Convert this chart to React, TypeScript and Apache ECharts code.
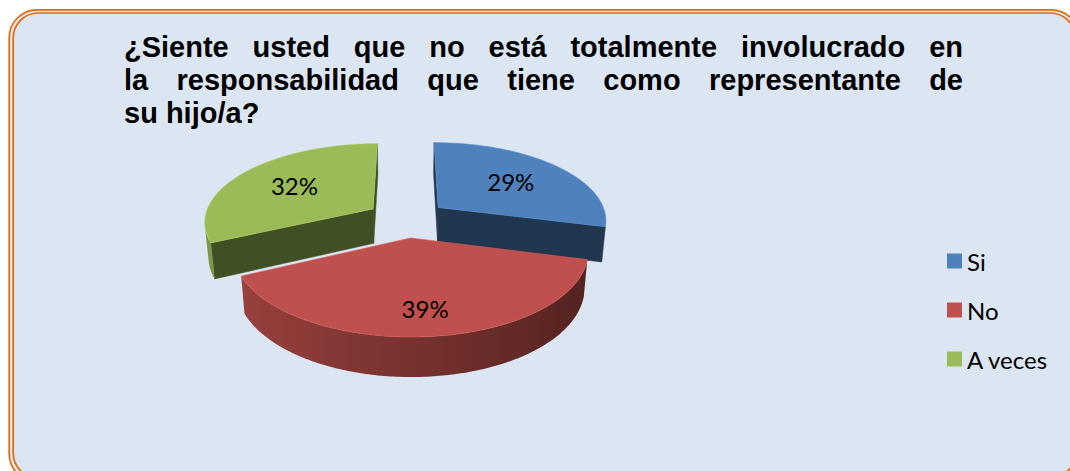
import { useEffect, useRef } from "react";
import * as echarts from "echarts";

// ---------- data ----------
const categories = ["Si", "No", "A veces"];
const values = [29, 39, 32];
const sliceColors = ["#4F81BD", "#C0504D", "#9BBB59"];
const titleLines = [
  "¿Siente usted que no está totalmente involucrado en",
  "la responsabilidad que tiene como representante de",
  "su hijo/a?",
];

// ---------- view / style ----------
const VIEW = {
  cx: 406.7,
  cy: 218.7,
  focal: 1000,
  dist: 5.92,
  tilt: (27.4 * Math.PI) / 180,
  height: 0.237,
  explode: 0.24,
};
const TITLE_FONT = { family: '"Liberation Sans", Arial, sans-serif', size: 29 };
const TITLE_LEFT = 124;
const TITLE_RIGHT = 963;
const TITLE_BASELINES = [57, 90, 123];
const LABEL_FONT = 24;

function project(X: number, Y: number, Z: number): [number, number] {
  const yr = Y - VIEW.height;
  const v = yr * Math.cos(VIEW.tilt) + Z * Math.sin(VIEW.tilt);
  const w = VIEW.dist + Z * Math.cos(VIEW.tilt) - yr * Math.sin(VIEW.tilt);
  return [VIEW.cx + (VIEW.focal * X) / w, VIEW.cy - (VIEW.focal * v) / w];
}

function shade(hex: string, f: number) {
  const n = parseInt(hex.slice(1), 16);
  const r = Math.min(255, Math.round(((n >> 16) & 255) * f));
  const g = Math.min(255, Math.round(((n >> 8) & 255) * f));
  const b = Math.min(255, Math.round((n & 255) * f));
  return `rgb(${r},${g},${b})`;
}

function makeRenderItem(idx: number) {
  return (_params: any, api: any) => {
    const total = values.reduce((s, v) => s + v, 0);
    let before = 0;
    for (let j = 0; j < idx; j++) before += values[j];
    const val = api.value(0) as number;
    const TAU = Math.PI * 2;
    const a0 = (before / total) * TAU;
    const a1 = ((before + val) / total) * TAU;
    const mid = (a0 + a1) / 2;
    const ccx = VIEW.explode * Math.sin(mid);
    const ccz = VIEW.explode * Math.cos(mid);
    const H = VIEW.height;
    const camZ = -VIEW.dist * Math.cos(VIEW.tilt);
    const base = sliceColors[idx];
    const pt = (t: number, r: number, Y: number) =>
      project(ccx + r * Math.sin(t), Y, ccz + r * Math.cos(t));

    const zBase = 100 + Math.round(-Math.cos(mid) * 50);
    const children: any[] = [];

    // radial walls
    const sideColor = shade(base, 0.42);
    const startVis = Math.cos(a0) * ccx + Math.sin(a0) * (camZ - ccz) > 0;
    const endVis = -Math.cos(a1) * ccx - Math.sin(a1) * (camZ - ccz) > 0;
    if (startVis) {
      children.push({
        type: "polygon",
        z2: zBase,
        shape: { points: [pt(a0, 0, H), pt(a0, 1, H), pt(a0, 1, 0), pt(a0, 0, 0)] },
        style: { fill: sideColor, stroke: sideColor, lineWidth: 0.5 },
      });
    }
    if (endVis) {
      children.push({
        type: "polygon",
        z2: zBase,
        shape: { points: [pt(a1, 0, H), pt(a1, 1, H), pt(a1, 1, 0), pt(a1, 0, 0)] },
        style: { fill: sideColor, stroke: sideColor, lineWidth: 0.5 },
      });
    }

    // outer curved wall (visible part)
    const N = 160;
    const vis: number[] = [];
    for (let k = 0; k <= N; k++) {
      const t = a0 + ((a1 - a0) * k) / N;
      const d = -ccx * Math.sin(t) + (camZ - ccz) * Math.cos(t) - 1;
      if (d > 0) vis.push(t);
    }
    if (vis.length > 1) {
      const topPts = vis.map((t) => pt(t, 1, H));
      const botPts = vis.map((t) => pt(t, 1, 0)).reverse();
      const all = topPts.concat(botPts);
      const xs = all.map((p) => p[0]);
      const xmin = Math.min(...xs);
      const xmax = Math.max(...xs);
      const stops: { offset: number; color: string }[] = [];
      const step = Math.max(1, Math.floor(vis.length / 12));
      for (let k = 0; k < vis.length; k += step) {
        const t = vis[k];
        const x = topPts[k][0];
        const off = xmax > xmin ? (x - xmin) / (xmax - xmin) : 0;
        stops.push({ offset: Math.min(1, Math.max(0, off)), color: shade(base, 0.62 - 0.2 * Math.sin(t)) });
      }
      const tl = vis[vis.length - 1];
      const xl = topPts[vis.length - 1][0];
      stops.push({
        offset: xmax > xmin ? Math.min(1, Math.max(0, (xl - xmin) / (xmax - xmin))) : 1,
        color: shade(base, 0.62 - 0.2 * Math.sin(tl)),
      });
      stops.sort((p, q) => p.offset - q.offset);
      children.push({
        type: "polygon",
        z2: zBase + 1,
        shape: { points: all },
        style: {
          fill: new echarts.graphic.LinearGradient(0, 0, 1, 0, stops),
        },
      });
    }

    // top face
    const topFace: [number, number][] = [pt(0, 0, H)];
    for (let k = 0; k <= N; k++) {
      const t = a0 + ((a1 - a0) * k) / N;
      topFace.push(pt(t, 1, H));
    }
    children.push({
      type: "polygon",
      z2: zBase + 2,
      shape: { points: topFace },
      style: { fill: base, stroke: shade(base, 1.12), lineWidth: 0.6 },
    });

    // label
    const rho = 0.6 + 0.15 * Math.max(0, -Math.cos(mid));
    const lp = pt(mid, rho, H);
    children.push({
      type: "text",
      z2: 1000,
      x: lp[0],
      y: lp[1],
      style: {
        text: Math.round((val / total) * 100) + "%",
        fill: "#000",
        fontFamily: "Lato, 'Open Sans', sans-serif",
        fontSize: LABEL_FONT,
        align: "center",
        verticalAlign: "middle",
      },
    });

    return { type: "group", children };
  };
}

function titleElements() {
  const canvas = document.createElement("canvas");
  const ctx = canvas.getContext("2d")!;
  ctx.font = `bold ${TITLE_FONT.size}px ${TITLE_FONT.family}`;
  const els: any[] = [];
  const spaceW = ctx.measureText(" ").width;
  titleLines.forEach((line, li) => {
    const words = line.split(" ");
    const widths = words.map((w) => ctx.measureText(w).width);
    const sum = widths.reduce((s, v) => s + v, 0);
    const justify = li < titleLines.length - 1 && words.length > 1;
    const gap = justify ? (TITLE_RIGHT - TITLE_LEFT - sum) / (words.length - 1) : spaceW;
    let x = TITLE_LEFT;
    const y = TITLE_BASELINES[li] - 0.3465 * TITLE_FONT.size;
    words.forEach((w, wi) => {
      els.push({
        type: "text",
        x,
        y,
        z: 5,
        style: {
          text: w,
          fill: "#000",
          fontFamily: TITLE_FONT.family,
          fontSize: TITLE_FONT.size,
          fontWeight: "bold",
          align: "left",
          verticalAlign: "middle",
        },
      });
      x += widths[wi] + gap;
    });
  });
  return els;
}

export default function App() {
  const ref = useRef<HTMLDivElement>(null);
  useEffect(() => {
    if (!ref.current) return;
    const chart = echarts.init(ref.current, undefined, { renderer: "svg" });
    const option: any = {
      animation: false,
      backgroundColor: "#ffffff",
      legend: {
        orient: "vertical",
        left: 947,
        top: 249,
        padding: 0,
        itemWidth: 15,
        itemHeight: 15,
        itemGap: 25,
        icon: "rect",
        data: categories,
        selectedMode: false,
        textStyle: {
          fontFamily: "Lato, 'Open Sans', sans-serif",
          fontSize: 24,
          lineHeight: 23,
          color: "#000",
        },
      },
      graphic: {
        elements: [
          {
            type: "rect",
            z: -10,
            shape: { x: 9.2, y: 9.8, width: 1070, height: 472, r: 28 },
            style: { fill: "#DCE6F2", stroke: "#E46C0A", lineWidth: 1.7 },
          },
          {
            type: "rect",
            z: -9,
            shape: { x: 13.2, y: 13, width: 1062, height: 465, r: 25 },
            style: { fill: "none", stroke: "#E46C0A", lineWidth: 1.7 },
          },
          ...titleElements(),
        ],
      },
      series: categories.map((name, i) => ({
        type: "custom",
        name,
        coordinateSystem: "none",
        silent: true,
        itemStyle: { color: sliceColors[i] },
        data: [[values[i]]],
        renderItem: makeRenderItem(i),
      })),
    };
    chart.setOption(option);
    return () => chart.dispose();
  }, []);
  return (
    <div
      ref={ref}
      style={{ position: "fixed", left: 0, top: 0, width: 1070, height: 471 }}
    />
  );
}
